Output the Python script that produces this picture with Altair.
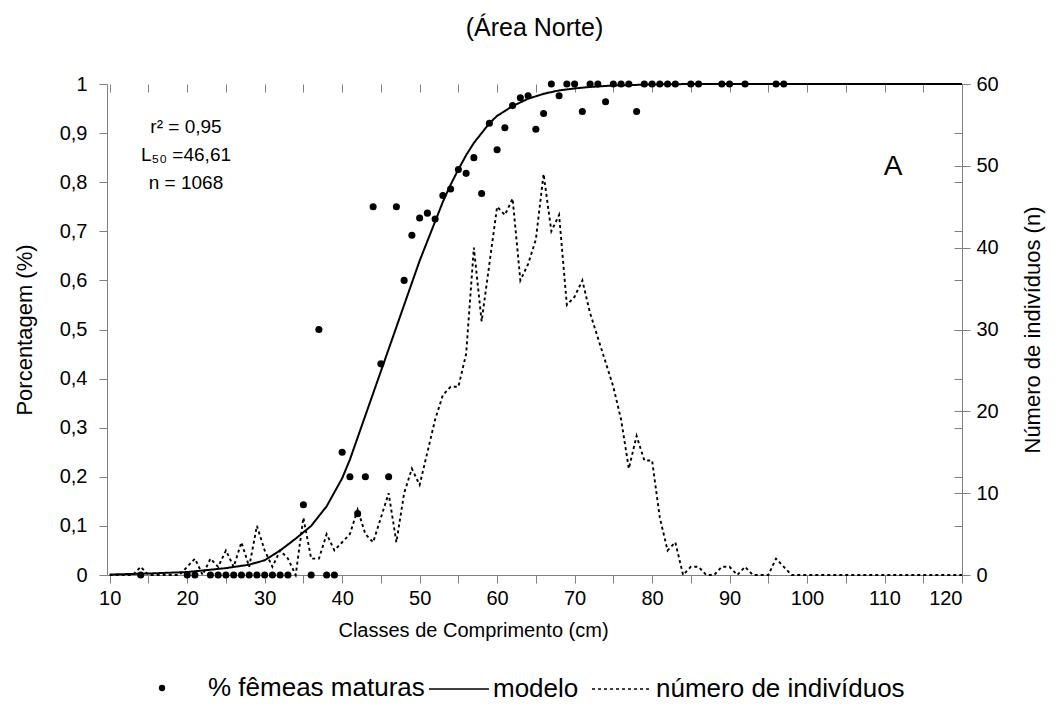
import altair as alt
import pandas as pd

FONT = "Liberation Sans"

# --- % of mature females per length class (cm) ---
mat_x = [14, 20, 21, 23, 24, 25, 26, 27, 28, 29, 30, 31, 32, 33,
         35, 36, 37, 38, 39,
         40, 41, 42, 43, 44, 45, 46, 47, 48, 49,
         50, 51, 52, 53, 54, 55, 56, 57, 58, 59,
         60, 61, 62, 63, 64, 65, 66, 67, 68, 69,
         70, 71, 72, 73, 74, 75, 76, 77, 78, 79,
         80, 81, 82, 83, 85, 86, 89, 90, 92, 96, 97]
mat_p = [0, 0, 0, 0, 0, 0, 0, 0, 0, 0, 0, 0, 0, 0,
         0.143, 0, 0.5, 0, 0,
         0.25, 0.2, 0.125, 0.2, 0.75, 0.43, 0.2, 0.75, 0.6, 0.692,
         0.727, 0.737, 0.725, 0.773, 0.786, 0.826, 0.818, 0.85, 0.777, 0.92,
         0.866, 0.911, 0.956, 0.972, 0.976, 0.908, 0.94, 1, 0.976, 1,
         1, 0.944, 1, 1, 0.964, 1, 1, 1, 0.944, 1,
         1, 1, 1, 1, 1, 1, 1, 1, 1, 1, 1]

# --- fitted model ---
model_x = [10, 15, 20, 25, 28, 30, 32, 34, 36, 38, 40, 41, 42, 43, 44, 45, 46, 47, 48, 49,
           50, 51, 52, 53, 54, 55, 56, 57, 58, 59, 60, 62, 64, 66, 68, 70, 72, 75, 80, 85,
           90, 100, 110, 120]
model_p = [0.001, 0.003, 0.006, 0.014, 0.021, 0.03, 0.05, 0.074, 0.1, 0.14, 0.197, 0.235,
           0.28, 0.325, 0.37, 0.415, 0.46, 0.505, 0.55, 0.595,
           0.64, 0.68, 0.72, 0.76, 0.795, 0.826, 0.855, 0.88, 0.9, 0.92, 0.935, 0.955, 0.97,
           0.98, 0.987, 0.991, 0.994, 0.997, 0.999, 1, 1, 1, 1, 1]

# --- number of individuals per class (10..120 cm) ---
count_x = list(range(10, 121))
count_n = [0, 0, 0, 0, 1, 0, 0, 0, 0, 0,
           1, 2, 0, 2, 1, 3, 1, 4, 1, 6,
           3, 1, 3, 2, 0, 7, 2, 2, 5, 3,
           4, 5, 8, 5, 4, 7, 10, 4, 10, 13,
           11, 15, 19, 22, 23, 23, 27, 40, 31, 38,
           45, 44, 46, 36, 38, 41, 49, 42, 44, 33,
           34, 36, 32, 29, 26, 23, 19, 13, 17, 14,
           14, 7, 3, 4, 0, 1, 1, 0, 0, 1,
           1, 0, 1, 0, 0, 0, 2, 1, 0, 0,
           0, 0, 0, 0, 0, 0, 0, 0, 0, 0,
           0, 0, 0, 0, 0, 0, 0, 0, 0, 0,
           0]

series = ["% fêmeas maturas", "modelo", "número de indivíduos"]
x_ticks = list(range(10, 121, 5))
left_ticks = [0, 0.1, 0.2, 0.3, 0.4, 0.5, 0.6, 0.7, 0.8, 0.9, 1]
right_ticks = [0, 10, 20, 30, 40, 50, 60]
notes = ["r² = 0,95", "L₅₀ =46,61", "n = 1068"]
panel_letter = "A"

df_pts = pd.DataFrame({"L": mat_x, "v": mat_p, "serie": series[0]})
df_mod = pd.DataFrame({"L": model_x, "v": model_p, "serie": series[1]})
df_cnt = pd.DataFrame({"L": count_x, "n": count_n, "serie": series[2]})

AX = "#808080"
x_scale = alt.Scale(domain=[9.65, 120], nice=False, zero=False)
yl_scale = alt.Scale(domain=[0, 1], nice=False)
yr_scale = alt.Scale(domain=[0, 60], nice=False)


def inner_ticks(values, orient=None):
    # tick-only axis shifted inward so that ticks cross the axis line
    kw = dict(values=values, labels=False, domain=False, title=None, grid=False,
              tickSize=8, tickColor=AX, offset=-8)
    if orient:
        kw["orient"] = orient
    return alt.Axis(**kw)


x_enc = alt.X(
    "L:Q", scale=x_scale,
    axis=alt.Axis(
        title="Classes de Comprimento (cm)", values=x_ticks,
        labelExpr="datum.value % 10 == 0 ? datum.label : ''",
        labelOverlap=False, grid=False, tickSize=8, labelPadding=5,
        titlePadding=12, titleX=366, domainColor=AX, tickColor=AX,
    ),
)
x_enc_in = alt.X("L:Q", scale=x_scale, axis=inner_ticks(x_ticks))

dot_color = alt.Color(
    "serie:N",
    scale=alt.Scale(domain=[series[0]], range=["black"]),
    legend=alt.Legend(
        orient="none", legendX=42, legendY=591, title=None, symbolType="circle",
        symbolSize=40, symbolFillColor="black", symbolStrokeWidth=0,
        labelFontSize=26, labelFont=FONT, labelColor="black", labelOffset=33,
        labelLimit=0,
    ),
)
dash = alt.StrokeDash(
    "serie:N",
    scale=alt.Scale(domain=[series[1], series[2]], range=[[1, 0], [3, 3]]),
    legend=alt.Legend(
        orient="none", legendX=321, legendY=574, title=None, direction="horizontal",
        columns=2, symbolType="stroke", symbolSize=3600, symbolStrokeWidth=1.5,
        symbolStrokeColor="black", labelFontSize=26, labelFont=FONT,
        labelColor="black", labelOffset=3, columnPadding=10, labelLimit=0,
    ),
)

y_left = alt.Y(
    "v:Q", scale=yl_scale,
    axis=alt.Axis(
        title="Porcentagem (%)", values=left_ticks,
        labelExpr="replace(format(datum.value, '.1~f'), '.', ',')",
        grid=False, tickSize=8, labelPadding=12, titlePadding=23, titleFontSize=22,
        domainColor=AX, tickColor=AX,
    ),
)
y_left_in = alt.Y("v:Q", scale=yl_scale, axis=inner_ticks(left_ticks))

pts = alt.Chart(df_pts).mark_circle(size=50, opacity=1).encode(x=x_enc, y=y_left, color=dot_color)
mod = alt.Chart(df_mod).mark_line(strokeWidth=2, color="black").encode(
    x=x_enc, y=y_left_in, strokeDash=dash)

txt = [
    alt.Chart(pd.DataFrame({"t": [t]})).mark_text(fontSize=19, font=FONT, color="black").encode(
        x=alt.value(79), y=alt.value(43 + 28 * i), text="t:N")
    for i, t in enumerate(notes)
]
letter = alt.Chart(pd.DataFrame({"t": [panel_letter]})).mark_text(
    fontSize=28, font=FONT, color="black").encode(
    x=alt.value(786), y=alt.value(83), text="t:N")

left_layer = alt.layer(pts, mod, *txt, letter).resolve_axis(y="independent")

cnt = alt.Chart(df_cnt).mark_line(strokeWidth=1.9, color="black").encode(
    x=x_enc_in,
    y=alt.Y(
        "n:Q", scale=yr_scale,
        axis=alt.Axis(
            title="Número de indivíduos (n)", orient="right", values=right_ticks,
            grid=False, tickSize=8, labelPadding=6, titlePadding=46, titleAngle=270,
            titleFontSize=22, domainColor=AX, tickColor=AX,
        ),
    ),
    strokeDash=dash,
)
ghost = alt.Chart(df_cnt).mark_line(opacity=0).encode(
    x=x_enc_in,
    y=alt.Y("n:Q", scale=yr_scale, axis=inner_ticks(right_ticks, "right")),
)
right_layer = alt.layer(cnt, ghost).resolve_axis(y="independent")

chart = alt.layer(left_layer, right_layer).resolve_scale(y="independent").resolve_axis(
    x="independent").properties(
    width=855, height=491,
    title=alt.TitleParams("(Área Norte)", fontSize=25, font=FONT, fontWeight="normal",
                          color="black", offset=33),
    autosize=alt.AutoSizeParams(type="none"),
    padding={"left": 107, "top": 84, "right": 100, "bottom": 140},
    background="white",
).configure_view(stroke=None).configure_axis(
    labelFont=FONT, titleFont=FONT, labelFontSize=20, titleFontSize=20,
    labelColor="black", titleColor="black", titleFontWeight="normal",
)

chart.save("out.html", embed_options={"renderer": "svg", "actions": False})
